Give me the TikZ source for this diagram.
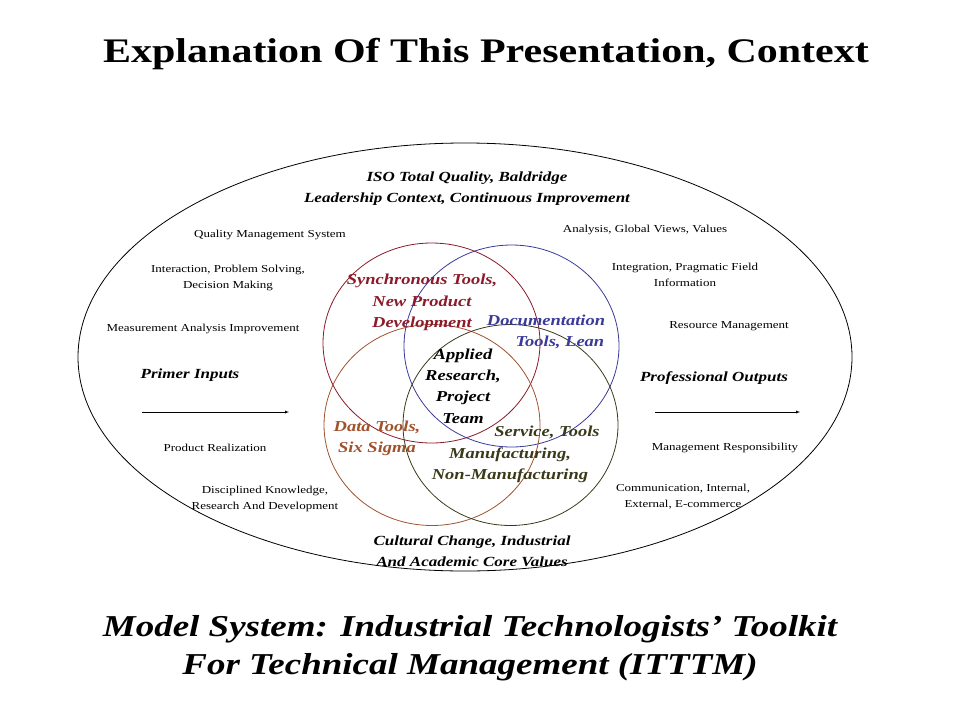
\documentclass[tikz,border=0pt]{standalone}
\usepackage{fontspec}
\usepackage{graphicx}
\setmainfont{Liberation Serif}
\newcommand{\sqz}[1]{\scalebox{1}[0.82]{\begin{tabular}{@{}c@{}}#1\end{tabular}}}
\begin{document}
\begin{tikzpicture}[x=1pt,y=-1pt,
  sm/.style={font=\fontsize{13}{19.5}\selectfont,inner sep=0pt},
  bi/.style={font=\fontsize{18.5}{26}\selectfont\bfseries\itshape,inner sep=0pt},
  hd/.style={font=\fontsize{17}{25.5}\selectfont\bfseries\itshape,inner sep=0pt},
  ring/.style={line width=0.8pt}]
\useasboundingbox (0,0) rectangle (960,720);
\definecolor{cred}{HTML}{8B1A2A}\definecolor{cblue}{HTML}{3A3A9A}
\definecolor{corg}{HTML}{A0522D}\definecolor{coli}{HTML}{3A3A1A}
\node[font=\fontsize{42}{46}\selectfont\bfseries,inner sep=0pt] (title) at (486,55) {\sqz{Explanation Of This Presentation, Context}};
\draw[ring] (465,357) ellipse [x radius=387, y radius=214];
\draw[ring,cred] (431.5,343) ellipse [x radius=108.5, y radius=100];
\draw[ring,cblue] (511.5,346) ellipse [x radius=107.5, y radius=101];
\draw[ring,corg] (432,425) ellipse [x radius=108, y radius=100.5];
\draw[ring,coli] (510.5,425) ellipse [x radius=107.5, y radius=100.5];
\node[hd] (top) at (467,188) {\sqz{ISO Total Quality, Baldridge\\Leadership Context, Continuous Improvement}};
\node[hd] (bot) at (472,552) {\sqz{Cultural Change, Industrial\\And Academic Core Values}};
\node[sm] (l1) at (270,234) {\sqz{Quality Management System}};
\node[sm] (l2) at (228,277) {\sqz{Interaction, Problem Solving,\\Decision Making}};
\node[sm] (l3) at (203,328) {\sqz{Measurement Analysis Improvement}};
\node[sm] (l4) at (215,448) {\sqz{Product Realization}};
\node[sm] (l5) at (265,498) {\sqz{Disciplined Knowledge,\\Research And Development}};
\node[sm] (r1) at (645,229) {\sqz{Analysis, Global Views, Values}};
\node[sm] (r2) at (685,275) {\sqz{Integration, Pragmatic Field\\Information}};
\node[sm] (r3) at (729,325) {\sqz{Resource Management}};
\node[sm] (r4) at (725,447) {\sqz{Management Responsibility}};
\node[sm] (r5) at (683,496) {\sqz{Communication, Internal,\\External, E-commerce}};
\node[hd] (pin) at (190,374) {\sqz{Primer Inputs}};
\node[hd] (pout) at (714,377) {\sqz{Professional Outputs}};
\coordinate (a1) at (142,412); \coordinate (a2) at (289,412);
\coordinate (b1) at (655,412); \coordinate (b2) at (800,412);
\draw[-latex] (a1) -- (a2);
\draw[-latex] (b1) -- (b2);
\node[bi,text=cred] (syn) at (422,302) {\sqz{Synchronous Tools,\\New Product\\Development}};
\node[bi,text=cblue] (doc) at (546,332) {\sqz{Documentation\\\hspace*{1.5em}Tools, Lean}};
\node[bi] (app) at (463,387) {\sqz{Applied\\Research,\\Project\\Team}};
\node[bi,text=corg] (dat) at (377,438) {\sqz{Data Tools,\\Six Sigma}};
\node[bi,text=coli] (ser) at (510,454) {\sqz{\hspace*{4em}Service, Tools\\Manufacturing,\\Non-Manufacturing}};
\node[font=\fontsize{37}{46}\selectfont\bfseries\itshape,inner sep=0pt] (ft) at (470,648) {\sqz{Model System: Industrial Technologists' Toolkit\\For Technical Management (ITTTM)}};
\end{tikzpicture}
\end{document}
